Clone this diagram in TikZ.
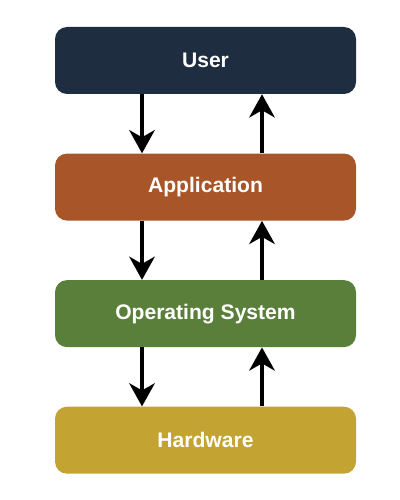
\documentclass[tikz,border=0pt]{standalone}
\usepackage{fontspec}
\setmainfont{Liberation Sans}
\usepackage{tikz}
\usetikzlibrary{arrows.meta, positioning}
\definecolor{layeruser}{RGB}{30,45,64}
\definecolor{layerapp}{RGB}{169,85,42}
\definecolor{layeros}{RGB}{90,127,58}
\definecolor{layerhw}{RGB}{195,163,49}
\tikzset{
    layerbox/.style={rounded corners=0.3cm, minimum width=7.525cm, minimum height=1.675cm,
        text=white, font=\fontsize{15}{18}\selectfont\bfseries, inner sep=0pt},
}
\tikzstyle{arrow} = [-{Stealth[length=5.8mm, width=6.4mm, inset=1.8mm]}, line width=2.4pt, draw=black]

\begin{document}
\begin{tikzpicture}
    \useasboundingbox (0,0) rectangle (10,-12.5);
    % layers
    \node[layerbox, fill=layeruser] (user) at (5.1375,-1.5125) {User};
    \node[layerbox, fill=layerapp, below=1.475cm of user] (app) {Application};
    \node[layerbox, fill=layeros, below=1.475cm of app] (os) {Operating System};
    \node[layerbox, fill=layerhw, below=1.475cm of os] (hw) {Hardware};

    % requests going down, results coming up
    \foreach \upper/\lower in {user/app, app/os, os/hw}{
        \draw[arrow] ([xshift=-1.5875cm]\upper.south) -- ([xshift=-1.5875cm]\lower.north);
        \draw[arrow] ([xshift=1.4125cm]\lower.north) -- ([xshift=1.4125cm]\upper.south);
    }
\end{tikzpicture}
\end{document}
